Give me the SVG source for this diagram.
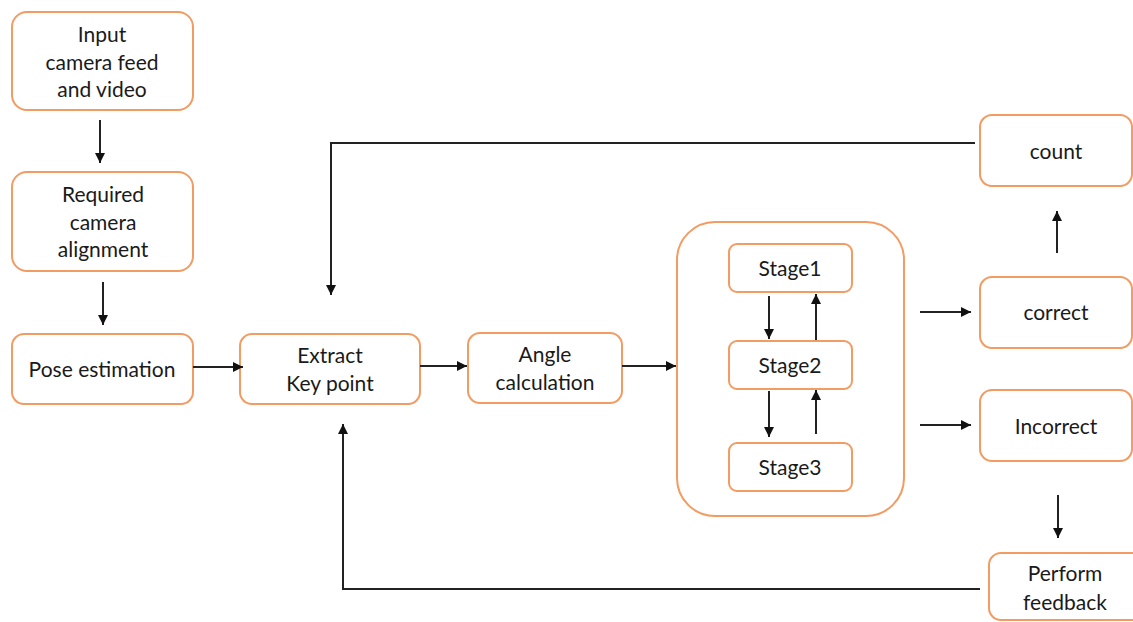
<svg xmlns="http://www.w3.org/2000/svg" width="1133" height="622" viewBox="0 0 1133 622">
<style>
.box{fill:#fff;stroke:#F29B62;stroke-width:2}
.t{font-family:Lato,"Open Sans",sans-serif;font-size:21px;fill:#1a1a1a;text-anchor:middle}
.c{fill:none;stroke:#222;stroke-width:2}
</style>
<defs>
<marker id="ah" viewBox="0 0 10 10" refX="10" refY="5" markerWidth="5" markerHeight="5" orient="auto">
<path d="M0,0 L10,5 L0,10 z" fill="#111"/>
</marker>
</defs>
<g id="input"><rect class="box" x="12" y="12" width="181" height="98" rx="15"/>
<text class="t" x="102" y="42">Input</text><text class="t" x="102" y="70">camera feed</text><text class="t" x="102" y="97">and video</text></g>
<g id="alignment"><rect class="box" x="12" y="172" width="181" height="99" rx="15"/>
<text class="t" x="103" y="202">Required</text><text class="t" x="103" y="230">camera</text><text class="t" x="103" y="257">alignment</text></g>
<g id="pose"><rect class="box" x="12" y="334" width="181" height="70" rx="12"/>
<text class="t" x="102" y="377">Pose estimation</text></g>
<g id="extract"><rect class="box" x="240" y="334" width="180" height="70" rx="12"/>
<text class="t" x="330" y="363">Extract</text><text class="t" x="330" y="391">Key point</text></g>
<g id="angle"><rect class="box" x="468" y="333" width="154" height="70" rx="12"/>
<text class="t" x="545" y="362">Angle</text><text class="t" x="545" y="390">calculation</text></g>
<g id="stages"><rect class="box" x="677" y="222" width="227" height="294" rx="38"/></g>
<g id="stage1"><rect class="box" x="729" y="244" width="123" height="48" rx="8"/>
<text class="t" x="790" y="276">Stage1</text></g>
<g id="stage2"><rect class="box" x="729" y="341" width="123" height="48" rx="8"/>
<text class="t" x="790" y="373">Stage2</text></g>
<g id="stage3"><rect class="box" x="729" y="443" width="123" height="48" rx="8"/>
<text class="t" x="790" y="475">Stage3</text></g>
<g id="count"><rect class="box" x="980" y="115" width="152" height="71" rx="12"/>
<text class="t" x="1056" y="159">count</text></g>
<g id="correct"><rect class="box" x="980" y="277" width="152" height="71" rx="12"/>
<text class="t" x="1056" y="320">correct</text></g>
<g id="incorrect"><rect class="box" x="980" y="390" width="152" height="71" rx="12"/>
<text class="t" x="1056" y="434">Incorrect</text></g>
<g id="feedback"><rect class="box" x="989" y="553" width="155" height="67" rx="12"/>
<text class="t" x="1065" y="581">Perform</text><text class="t" x="1065" y="610">feedback</text></g>
<g id="connectors">
<line class="c" x1="100" y1="120" x2="100" y2="163" marker-end="url(#ah)"/>
<line class="c" x1="103" y1="282" x2="103" y2="325" marker-end="url(#ah)"/>
<line class="c" x1="193" y1="367" x2="243" y2="367" marker-end="url(#ah)"/>
<line class="c" x1="420" y1="366" x2="467" y2="366" marker-end="url(#ah)"/>
<line class="c" x1="622" y1="366" x2="676" y2="366" marker-end="url(#ah)"/>
<line class="c" x1="769" y1="296" x2="769" y2="339" marker-end="url(#ah)"/>
<line class="c" x1="816" y1="340" x2="816" y2="294" marker-end="url(#ah)"/>
<line class="c" x1="769" y1="391" x2="769" y2="437" marker-end="url(#ah)"/>
<line class="c" x1="816" y1="434" x2="816" y2="390" marker-end="url(#ah)"/>
<line class="c" x1="920" y1="312" x2="971" y2="312" marker-end="url(#ah)"/>
<line class="c" x1="920" y1="425" x2="971" y2="425" marker-end="url(#ah)"/>
<line class="c" x1="1057" y1="253" x2="1057" y2="211" marker-end="url(#ah)"/>
<line class="c" x1="1058" y1="495" x2="1058" y2="538" marker-end="url(#ah)"/>
<polyline class="c" points="975,143 331,143 331,295" marker-end="url(#ah)"/>
<polyline class="c" points="980,589 343,589 343,424" marker-end="url(#ah)"/>
</g>
</svg>
